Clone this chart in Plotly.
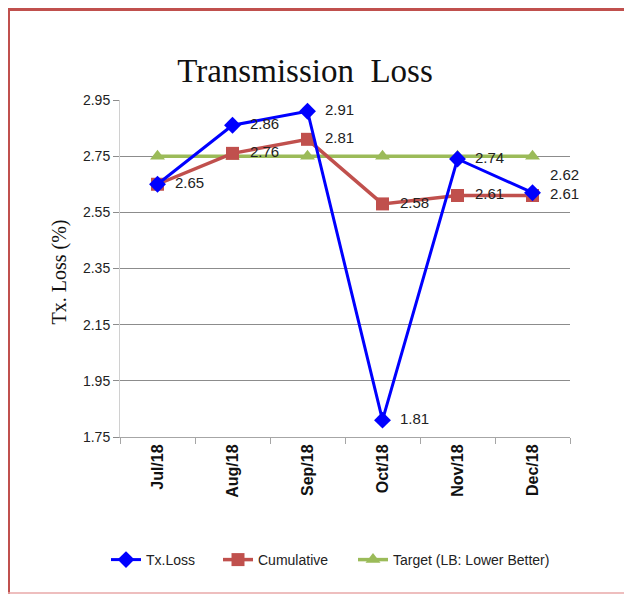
import plotly.graph_objects as go

months = ["Jul/18", "Aug/18", "Sep/18", "Oct/18", "Nov/18", "Dec/18"]
tx_loss = [2.65, 2.86, 2.91, 1.81, 2.74, 2.62]
cumulative = [2.65, 2.76, 2.81, 2.58, 2.61, 2.61]
target = [2.75, 2.75, 2.75, 2.75, 2.75, 2.75]
y_ticks = [1.75, 1.95, 2.15, 2.35, 2.55, 2.75, 2.95]

# Tx.Loss label at Jul is hidden under the Cumulative one in the original
tx_labels = [""] + [f"{v:.2f}" for v in tx_loss[1:]]
tx_label_pos = ["middle right"] * 5 + ["top right"]
cum_labels = [f"{v:.2f}" for v in cumulative]

OFF = 8  # page body margin
W, H = 632, 595
L, R, T, B = 112, 70, 92, 166
pw, ph = W - L - R, H - T - B

def px_x(x):  # page pixel -> paper
    return (x - OFF - L) / pw

def px_y(y):
    return 1 - (y - OFF - T) / ph

label_font = dict(family="Liberation Sans", size=15, color="#222222")
NB = "\u00a0\u00a0"

fig = go.Figure()
fig.add_trace(go.Scatter(
    x=months, y=target, name="Target (LB: Lower Better)", mode="lines+markers",
    line=dict(color="#9BBB59", width=3.5),
    marker=dict(symbol="triangle-up", size=13, color="#9BBB59"),
    cliponaxis=False, legend="legend3",
))
fig.add_trace(go.Scatter(
    x=months, y=cumulative, name="Cumulative", mode="lines+markers+text",
    text=[NB + t for t in cum_labels], textposition="middle right",
    textfont=label_font,
    line=dict(color="#C0504D", width=3.5),
    marker=dict(symbol="square", size=13, color="#C0504D"),
    cliponaxis=False, legend="legend2",
))
fig.add_trace(go.Scatter(
    x=months, y=tx_loss, name="Tx.Loss", mode="lines+markers+text",
    text=[(NB + t) if t else "" for t in tx_labels], textposition=tx_label_pos,
    textfont=label_font,
    line=dict(color="#0000FF", width=3),
    marker=dict(symbol="diamond", size=13, color="#0000FF"),
    cliponaxis=False, legend="legend",
))

shapes = [
    dict(type="line", xref="paper", yref="paper", x0=px_x(6), x1=px_x(660),
         y0=px_y(9.5), y1=px_y(9.5), line=dict(color="#C0504D", width=3)),
    dict(type="line", xref="paper", yref="paper", x0=px_x(8.5), x1=px_x(8.5),
         y0=px_y(8), y1=px_y(594), line=dict(color="#C0504D", width=3)),
    dict(type="line", xref="paper", yref="paper", x0=px_x(7), x1=px_x(660),
         y0=px_y(593), y1=px_y(593), line=dict(color="#E8A8A8", width=1.5)),
]

leg_common = dict(orientation="h", xanchor="left", y=px_y(560), yanchor="middle",
                  font=dict(family="Liberation Sans", size=14, color="#222222"),
                  itemwidth=30, bgcolor="rgba(0,0,0,0)")

fig.update_layout(
    width=W, height=H,
    margin=dict(l=L, r=R, t=T, b=B),
    paper_bgcolor="white", plot_bgcolor="white",
    shapes=shapes,
    title=dict(text="Transmission\u00a0\u00a0Loss", xref="container", x=(305 - OFF) / W,
               xanchor="center", y=1 - 62 / H, yanchor="middle",
               font=dict(family="Liberation Serif", size=33, color="#111111")),
    showlegend=True,
    legend=dict(x=px_x(106), **leg_common),
    legend2=dict(x=px_x(218), **leg_common),
    legend3=dict(x=px_x(353), **leg_common),
    annotations=[dict(text="Tx. Loss (%)", x=px_x(45), y=px_y(272), xref="paper", yref="paper",
                      showarrow=False, textangle=-90,
                      font=dict(family="Liberation Serif", size=20, color="#111111"))],
)
fig.update_xaxes(
    type="category", categoryorder="array", categoryarray=months,
    tickangle=-90, tickfont=dict(family="Liberation Sans", size=16, color="#111111", weight="bold"),
    showgrid=False, showline=True, linecolor="#A6A6A6", linewidth=1,
    ticks="outside", tickson="boundaries", ticklen=6, tickcolor="#A6A6A6",
    range=[-0.5, 5.5],
)
fig.update_yaxes(
    range=[1.75, 2.95], tickvals=y_ticks, ticktext=[f"{v:.2f}" for v in y_ticks],
    tickfont=dict(family="Liberation Sans", size=14, color="#222222"),
    showgrid=True, gridcolor="#8C8C8C", gridwidth=1,
    showline=True, linecolor="#D0D0D0", linewidth=1,
    ticks="outside", ticklen=6, tickcolor="#8C8C8C", zeroline=False,
)

fig.write_html("out.html")
